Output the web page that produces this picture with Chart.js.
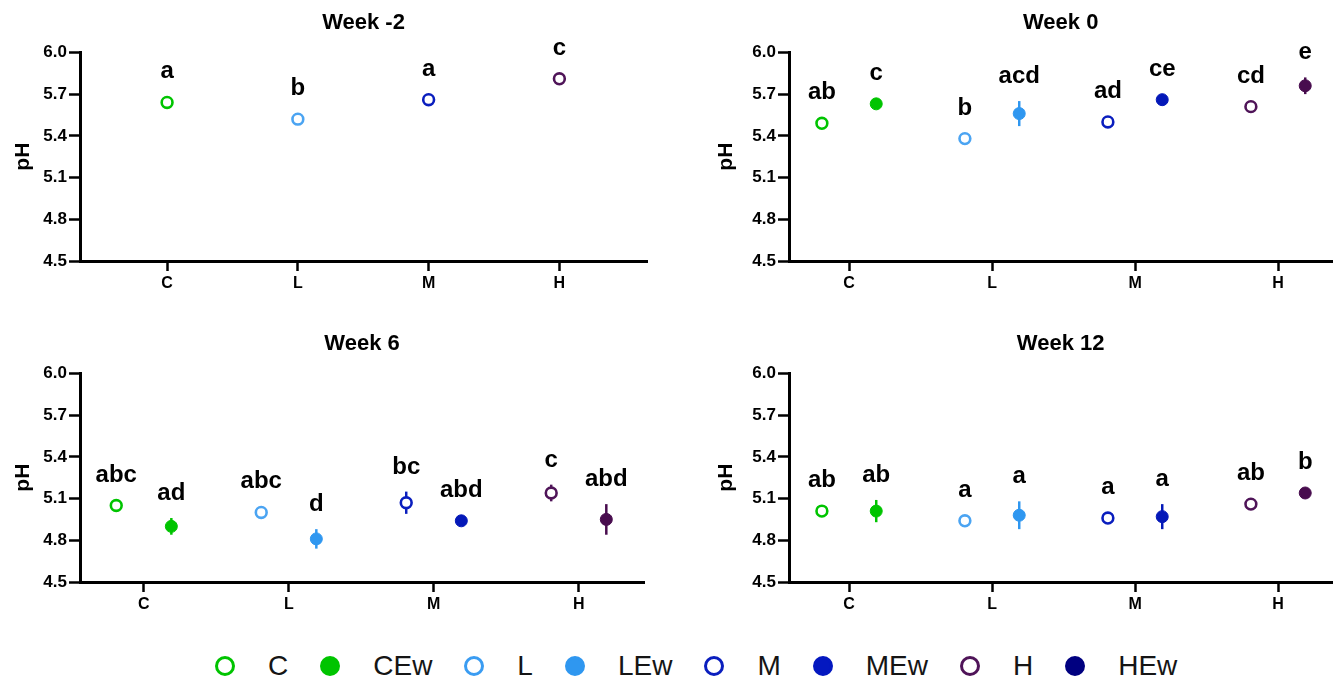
<!DOCTYPE html>
<html>
<head>
<meta charset="utf-8">
<script src="https://cdn.jsdelivr.net/npm/chart.js@4.4.1/dist/chart.umd.min.js"></script>
<style>
  body { margin: 0; background: #fff; width: 1341px; height: 682px; position: relative; overflow: hidden; }
  canvas { position: absolute; }
  #legend { position: absolute; left: 215px; top: 650px; display: flex; align-items: center;
            font-family: "Liberation Sans", Arial, sans-serif; font-size: 28px; color: #151515; }
  .item { display: flex; align-items: center; margin-right: 32px; }
  .dot { width: 14px; height: 14px; border-radius: 50%; border: 3.5px solid; margin-right: 33px; }
</style>
</head>
<body>
<canvas id="wkm2" width="670" height="300" style="left:0;top:0"></canvas>
<canvas id="wk0" width="671" height="300" style="left:670px;top:0"></canvas>
<canvas id="wk6" width="670" height="300" style="left:0;top:321px"></canvas>
<canvas id="wk12" width="671" height="300" style="left:670px;top:321px"></canvas>
<div id="legend"></div>
<script>
const categories = ['C', 'L', 'M', 'H'];
const groups = ['C', 'CEw', 'L', 'LEw', 'M', 'MEw', 'H', 'HEw'];
const yTicks = [4.5, 4.8, 5.1, 5.4, 5.7, 6.0];

// mean pH and error, one value per group (null = not measured)
const weekM2Mean    = [5.64, null, 5.52, null, 5.66, null, 5.81, null];
const weekM2Err     = [0.01, null, 0.01, null, 0.01, null, 0.01, null];
const weekM2Letters = ['a', '', 'b', '', 'a', '', 'c', ''];

const week0Mean    = [5.49, 5.63, 5.38, 5.56, 5.50, 5.66, 5.61, 5.76];
const week0Err     = [0.01, 0.01, 0.01, 0.09, 0.01, 0.04, 0.01, 0.06];
const week0Letters = ['ab', 'c', 'b', 'acd', 'ad', 'ce', 'cd', 'e'];

const week6Mean    = [5.05, 4.90, 5.00, 4.81, 5.07, 4.94, 5.14, 4.95];
const week6Err     = [0.01, 0.06, 0.01, 0.07, 0.08, 0.01, 0.06, 0.11];
const week6Letters = ['abc', 'ad', 'abc', 'd', 'bc', 'abd', 'c', 'abd'];

const week12Mean    = [5.01, 5.01, 4.94, 4.98, 4.96, 4.97, 5.06, 5.14];
const week12Err     = [0.01, 0.08, 0.01, 0.10, 0.01, 0.09, 0.01, 0.01];
const week12Letters = ['ab', 'ab', 'a', 'a', 'a', 'a', 'ab', 'b'];

const groupColors  = ['#00c400', '#00c400', '#4ba4f2', '#2f97f0', '#0a1ebe', '#0418b8', '#4f1458', '#480c4e'];
const legendColors = ['#00c400', '#00c400', '#3a9cf2', '#2f97f0', '#0a1ebe', '#0418c0', '#4f1458', '#000080'];

const FONT = '"Liberation Sans", Arial, sans-serif';

const errorBars = {
  id: 'errorBars',
  beforeDatasetsDraw(chart) {
    const ctx = chart.ctx, y = chart.scales.y;
    chart.data.datasets.forEach((ds, i) => {
      const meta = chart.getDatasetMeta(i);
      ds.data.forEach((d, j) => {
        if (!d.err || d.err < 0.02) return;
        const pt = meta.data[j];
        ctx.save();
        ctx.strokeStyle = ds.borderColor;
        ctx.lineWidth = 2.5;
        ctx.beginPath();
        ctx.moveTo(pt.x, y.getPixelForValue(d.y + d.err));
        ctx.lineTo(pt.x, y.getPixelForValue(d.y - d.err));
        ctx.stroke();
        ctx.restore();
      });
    });
  }
};

const letterLabels = {
  id: 'letterLabels',
  afterDatasetsDraw(chart) {
    const ctx = chart.ctx, y = chart.scales.y;
    ctx.save();
    ctx.font = 'bold 24px ' + FONT;
    ctx.fillStyle = '#000';
    ctx.textAlign = 'center';
    ctx.textBaseline = 'alphabetic';
    chart.data.datasets.forEach((ds, i) => {
      const meta = chart.getDatasetMeta(i);
      ds.data.forEach((d, j) => {
        if (!d.letter) return;
        const pt = meta.data[j];
        const errPx = d.err >= 0.02 ? pt.y - y.getPixelForValue(d.y + d.err) : 0;
        ctx.fillText(d.letter, pt.x, pt.y - Math.max(errPx, 6) - 18);
      });
    });
    ctx.restore();
  }
};

function makePanel(id, title, mean, err, letters, frame) {
  const datasets = [];
  groups.forEach((g, i) => {
    if (mean[i] === null) return;
    const open = i % 2 === 0;
    const x = Math.floor(i / 2) + 1 + (frame.paired ? (open ? -0.19 : 0.19) : 0);
    datasets.push({
      label: g,
      data: [{ x: x, y: mean[i], err: err[i], letter: letters[i] }],
      borderColor: groupColors[i],
      backgroundColor: open ? '#fff' : groupColors[i],
      pointRadius: open ? 5.4 : 6,
      pointBorderWidth: open ? 2.6 : 1,
      pointHoverRadius: 6
    });
  });

  new Chart(document.getElementById(id), {
    type: 'scatter',
    data: { datasets: datasets },
    options: {
      responsive: false,
      animation: false,
      layout: { padding: { left: frame.padLeft, right: frame.padRight, top: 0, bottom: 0 } },
      plugins: {
        legend: { display: false },
        tooltip: { enabled: false },
        title: {
          display: true,
          text: title,
          fullSize: false,
          color: '#000',
          font: { family: FONT, size: 22, weight: 'bold' },
          padding: { top: 10, bottom: 16 }
        }
      },
      scales: {
        x: {
          type: 'linear',
          min: frame.xMin,
          max: frame.xMax,
          afterBuildTicks: axis => { axis.ticks = categories.map((c, k) => ({ value: k + 1 })); },
          afterFit: s => { s.height = 39; },
          ticks: {
            callback: v => categories[v - 1],
            color: '#000',
            font: { family: FONT, size: 16, weight: 'bold' },
            padding: 3,
            autoSkip: false,
            maxRotation: 0
          },
          grid: { drawOnChartArea: false, drawTicks: true, tickLength: 10, tickWidth: 2.5, tickColor: '#000' },
          border: { color: '#000', width: 3 }
        },
        y: {
          min: 4.5,
          max: 6.0,
          afterBuildTicks: axis => { axis.ticks = yTicks.map(v => ({ value: v })); },
          afterFit: s => { s.width = frame.axisW; },
          ticks: {
            callback: v => v.toFixed(1),
            color: '#000',
            font: { family: FONT, size: 17, weight: 'bold' },
            padding: 2
          },
          grid: { drawOnChartArea: false, drawTicks: true, tickLength: 11, tickWidth: 2.5, tickColor: '#000' },
          border: { color: '#000', width: 3 },
          title: {
            display: true,
            text: 'pH',
            color: '#000',
            font: { family: FONT, size: 21, weight: 'bold' },
            padding: 0
          }
        }
      }
    },
    plugins: [errorBars, letterLabels]
  });
}

const leftSingle = { xMin: 0.334, xMax: 4.67, padLeft: 11, padRight: 23, axisW: 69, paired: false };
const leftPaired = { xMin: 0.56, xMax: 4.45, padLeft: 11, padRight: 26, axisW: 69, paired: true };
const rightPaired = { xMin: 0.58, xMax: 4.38, padLeft: 44, padRight: 0, axisW: 75, paired: true };

makePanel('wkm2', 'Week -2', weekM2Mean, weekM2Err, weekM2Letters, leftSingle);
makePanel('wk0', 'Week 0', week0Mean, week0Err, week0Letters, rightPaired);
makePanel('wk6', 'Week 6', week6Mean, week6Err, week6Letters, leftPaired);
makePanel('wk12', 'Week 12', week12Mean, week12Err, week12Letters, rightPaired);

// shared legend
const legendEl = document.getElementById('legend');
groups.forEach((g, i) => {
  const item = document.createElement('div');
  item.className = 'item';
  const dot = document.createElement('span');
  dot.className = 'dot';
  dot.style.borderColor = legendColors[i];
  dot.style.background = i % 2 === 0 ? '#fff' : legendColors[i];
  const txt = document.createElement('span');
  txt.textContent = g;
  item.appendChild(dot);
  item.appendChild(txt);
  legendEl.appendChild(item);
});
</script>
</body>
</html>
